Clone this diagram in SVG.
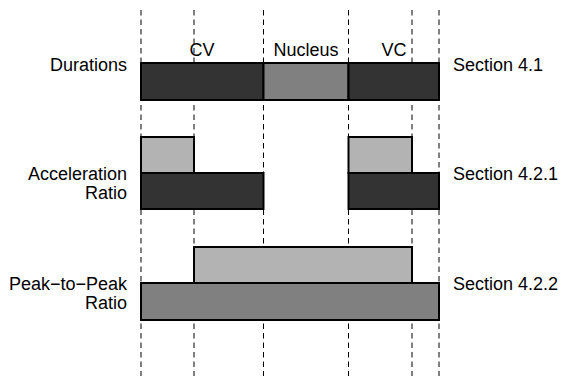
<svg xmlns="http://www.w3.org/2000/svg" width="563" height="376" viewBox="0 0 563 376">
<style>
.guide{stroke:#000;stroke-width:1;stroke-dasharray:5.5 4;fill:none}
.bar{stroke:#000;stroke-width:2}
.dark{fill:#333333}
.mid{fill:#808080}
.light{fill:#b3b3b3}
text{font-family:"Liberation Sans",Arial,sans-serif;font-size:18px;fill:#000}
.l{text-anchor:end}
.c{text-anchor:middle}
</style>
<g id="guides">
<line class="guide" x1="141" y1="10" x2="141" y2="376"/>
<line class="guide" x1="194" y1="10" x2="194" y2="376"/>
<line class="guide" x1="263.5" y1="10" x2="263.5" y2="376"/>
<line class="guide" x1="348.5" y1="10" x2="348.5" y2="376"/>
<line class="guide" x1="412" y1="10" x2="412" y2="376"/>
<line class="guide" x1="439" y1="10" x2="439" y2="376"/>
</g>
<g id="phase-labels">
<text class="c" x="202" y="56">CV</text>
<text class="c" x="306" y="56">Nucleus</text>
<text class="c" x="394" y="56">VC</text>
</g>
<g id="durations">
<rect class="bar dark" x="141" y="63" width="122.5" height="37"/>
<rect class="bar mid" x="263.5" y="63" width="85" height="37"/>
<rect class="bar dark" x="348.5" y="63" width="90.5" height="37"/>
<text class="l" x="127" y="71">Durations</text>
<text x="453" y="71">Section 4.1</text>
</g>
<g id="acceleration">
<rect class="bar light" x="141" y="137" width="53" height="36"/>
<rect class="bar light" x="348.5" y="137" width="63.5" height="36"/>
<rect class="bar dark" x="141" y="173" width="122.5" height="36"/>
<rect class="bar dark" x="348.5" y="173" width="90.5" height="36"/>
<text class="l" x="127" y="179.5">Acceleration</text>
<text class="l" x="127" y="199">Ratio</text>
<text x="453" y="179.5">Section 4.2.1</text>
</g>
<g id="peak">
<rect class="bar light" x="194" y="247" width="218" height="36"/>
<rect class="bar mid" x="141" y="283" width="298" height="37"/>
<text class="l" x="127" y="289.5">Peak−to−Peak</text>
<text class="l" x="127" y="309">Ratio</text>
<text x="453" y="289.5">Section 4.2.2</text>
</g>
</svg>
